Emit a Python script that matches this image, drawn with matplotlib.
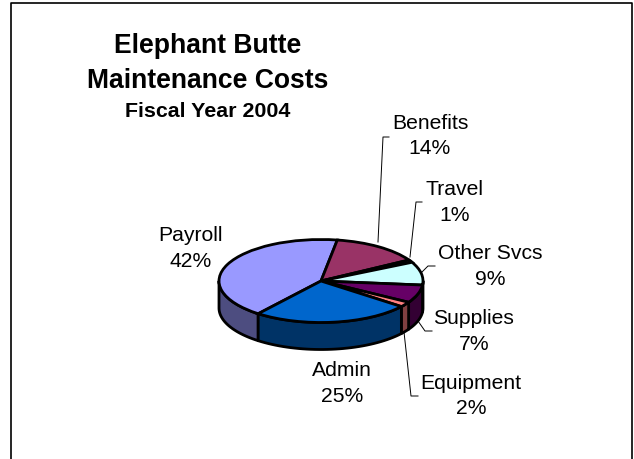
import matplotlib
matplotlib.use("Agg")
import numpy as np
import matplotlib.pyplot as plt
from matplotlib.patches import Wedge
from matplotlib.transforms import Affine2D

plt.rcParams["font.family"] = ["Liberation Sans", "DejaVu Sans"]

# clockwise from the Payroll slice, same order as the sheet
categories = ["Payroll", "Benefits", "Travel", "Other Svcs", "Supplies", "Equipment", "Admin"]
percents = [42, 14, 1, 9, 7, 2, 25]
top_colors = ["#9999FF", "#993366", "#FFFFCC", "#CCFFFF", "#660066", "#FF8080", "#0066CC"]
side_colors = ["#4D4D80", "#4D1A33", "#808066", "#668080", "#330033", "#804040", "#003366"]
label_xy = [(191, 248.5), (430, 136), (455, 202.5), (490, 266.5), (474, 331.5), (471, 396), (342, 383.5)]

# leader lines in pixels, None = label sits next to the slice
leaders = [
    None,
    [(378, 243), (383, 138), (389, 138)],
    [(410, 258), (416, 203), (422, 203)],
    [(422, 273), (428, 267), (435, 267)],
    [(418, 322), (425, 332), (432, 332)],
    [(404, 333), (411, 397), (418, 397)],
    None,
]

cx, cy, rx, ry, depth = 321, 282, 102, 41.5, 27
start = 232

fig = plt.figure(figsize=(6.34, 4.6), dpi=100)
ax = fig.add_axes([0, 0, 1, 1])
ax.set_xlim(0, 634)
ax.set_ylim(460, 0)
ax.axis("off")

# frame is cut off at the bottom of the image
ax.plot([11, 11, 632, 632], [460, 4, 4, 460], color="black", lw=1.2)

top = Affine2D().scale(rx, -ry).translate(cx, cy) + ax.transData

# slice angles, going clockwise
sweeps = np.array(percents) * 3.6
ends = start - np.cumsum(sweeps)
starts = ends + sweeps

# side wall first, only the front half of the ellipse shows
for a0, a1, col in zip(starts, ends, side_colors):
    for shift in (0, 360):
        lo, hi = max(a1 + shift, 180), min(a0 + shift, 360)
        if hi <= lo:
            continue
        t = np.radians(np.linspace(lo, hi, 40))
        xs = cx + rx * np.cos(t)
        ys = cy - ry * np.sin(t)
        ax.fill(np.r_[xs, xs[::-1]], np.r_[ys, ys[::-1] + depth], fc=col, ec="black", lw=2, joinstyle="round")

for a0, a1, col in zip(starts, ends, top_colors):
    ax.add_patch(Wedge((0, 0), 1, a1, a0, fc=col, ec="black", lw=2, transform=top))

for name, pct, (x, y), pts in zip(categories, percents, label_xy, leaders):
    ax.text(x, y, f"{name}\n{pct}%", ha="center", va="center", fontsize=15.2, linespacing=1.45, color="black")
    if pts:
        ax.plot(*zip(*pts), color="black", lw=0.7)

ax.text(208, 53, "Elephant Butte", ha="center", va="baseline", fontsize=19.1, fontweight="bold")
ax.text(208, 88, "Maintenance Costs", ha="center", va="baseline", fontsize=19.1, fontweight="bold")
ax.text(208, 117, "Fiscal Year 2004", ha="center", va="baseline", fontsize=15.4, fontweight="bold")

fig.savefig("out.png", dpi=100)
